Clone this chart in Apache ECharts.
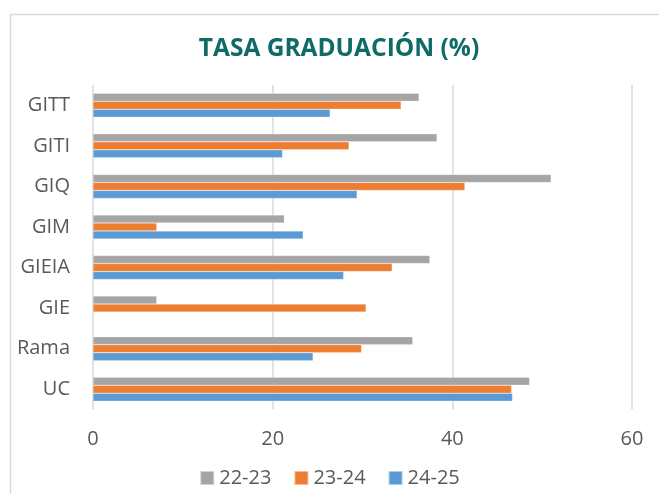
<!DOCTYPE html>
<html>
<head>
<meta charset="utf-8">
<script src="https://cdn.jsdelivr.net/npm/echarts@6/dist/echarts.min.js"></script>
<style>
html,body{margin:0;padding:0;background:#fff;}
#chart{width:659px;height:494px;}
</style>
</head>
<body>
<div id="chart"></div>
<script>
const categories = ['GITT', 'GITI', 'GIQ', 'GIM', 'GIEIA', 'GIE', 'Rama', 'UC'];
const seriesNames = ['22-23', '23-24', '24-25'];
const values2223 = [36.3, 38.3, 51.0, 21.3, 37.5, 7.1, 35.6, 48.6];
const values2324 = [34.3, 28.5, 41.4, 7.1, 33.3, 30.4, 29.9, 46.6];
const values2425 = [26.4, 21.1, 29.4, 23.4, 27.9, null, 24.5, 46.7];
const xTicks = [0, 20, 40, 60];
const titleText = 'TASA GRADUACIÓN (%)';

const colors = ['#A5A5A5', '#ED7D31', '#5B9BD5'];
const font = 'Open Sans';
const chart = echarts.init(document.getElementById('chart'), null, {renderer: 'canvas'});
const allValues = [values2223, values2324, values2425];

chart.setOption({
  animation: false,
  backgroundColor: '#fff',
  title: {
    text: titleText,
    left: 334,
    textAlign: 'center',
    top: 32,
    textStyle: {fontFamily: font, fontWeight: 'bold', fontSize: 24.5, color: '#0E6B65'}
  },
  graphic: [{
    type: 'rect',
    left: 8, top: 12,
    shape: {width: 700, height: 600},
    style: {fill: 'none', stroke: '#D9D9D9', lineWidth: 1.5},
    silent: true
  }],
  legend: {
    data: seriesNames,
    bottom: 1,
    left: 'center',
    itemWidth: 14,
    itemHeight: 14,
    itemGap: 22,
    icon: 'rect',
    textStyle: {fontFamily: font, fontSize: 20, color: '#595959'}
  },
  grid: {left: 93, right: 27, top: 85, height: 324.5, containLabel: false},
  xAxis: {
    type: 'value',
    min: xTicks[0],
    max: xTicks[xTicks.length - 1],
    interval: 20,
    axisLine: {show: false},
    axisTick: {show: false},
    axisLabel: {fontFamily: font, fontSize: 20, color: '#595959', margin: 20},
    splitLine: {show: true, lineStyle: {color: '#D9D9D9', width: 1.5}}
  },
  yAxis: {
    type: 'category',
    data: categories,
    inverse: true,
    axisLine: {show: false},
    axisTick: {show: false},
    axisLabel: {fontFamily: font, fontSize: 20, color: '#595959', margin: 23}
  },
  series: seriesNames.map((name, i) => ({
    name: name,
    type: 'bar',
    data: allValues[i],
    barWidth: 8,
    barGap: '0%',
    itemStyle: {color: colors[i], borderColor: 'rgba(255,255,255,0.5)', borderWidth: 0.5}
  }))
});
</script>
</body>
</html>
